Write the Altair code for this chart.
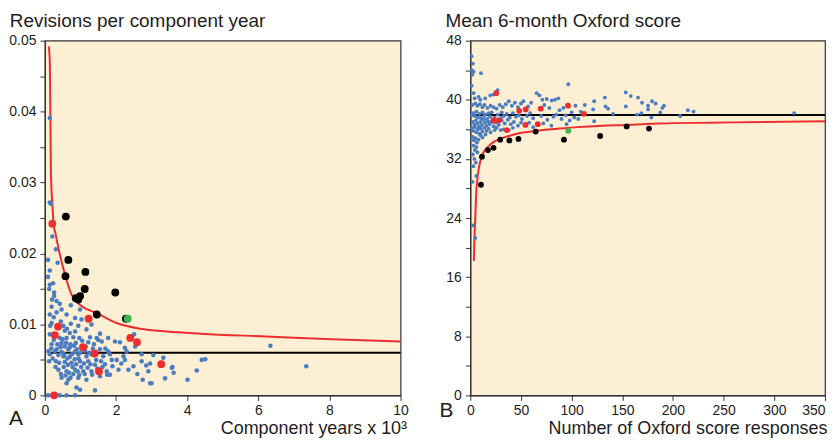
import altair as alt
import pandas as pd

FONT = "Liberation Sans"
TEXT_COLOR = "#1E1C1D"
BG = "#FDEFD3"
BLUE = "#4A7CC2"
RED = "#EE2E2E"
GREEN = "#3DB54A"
BLACK = "#000000"

PANEL_LABELS = ["A", "B"]
TITLES = ["Revisions per component year", "Mean 6-month Oxford score"]
X_TITLES = ["Component years x 10\u00b3", "Number of Oxford score responses"]

A_X_TICKS = [0, 2, 4, 6, 8, 10]
A_Y_TICKS = [0, 0.005, 0.01, 0.015, 0.02, 0.025, 0.03, 0.035, 0.04, 0.045, 0.05]
B_X_TICKS = [0, 50, 100, 150, 200, 250, 300, 350]
B_Y_TICKS = [0, 4, 8, 12, 16, 20, 24, 28, 32, 36, 40, 44, 48]

# ---------------- Panel A ----------------
A_BLUE = [
    (0.14, 0.0391), (0.17, 0.0270), (0.14, 0.0272), (0.21, 0.0224), (0.31, 0.0206),
    (0.09, 0.0191), (0.36, 0.0187), (0.14, 0.0176), (0.09, 0.0167), (0.23, 0.0158),
    (0.14, 0.0156), (0.26, 0.0145), (0.26, 0.0140), (0.33, 0.0133), (0.19, 0.0125),
    (0.42, 0.0129), (0.47, 0.0121), (0.73, 0.0127), (0.14, 0.0114), (0.33, 0.0117),
    (0.61, 0.0114), (0.99, 0.0121), (0.85, 0.0109), (1.03, 0.0107), (0.19, 0.0102),
    (0.73, 0.0101), (0.52, 0.0098), (0.94, 0.0098), (1.31, 0.0100), (1.17, 0.0093),
    (0.14, 0.0086), (0.56, 0.0091), (0.70, 0.0088), (0.85, 0.0090), (0.42, 0.0081),
    (0.61, 0.0081), (0.80, 0.0082), (0.97, 0.0081), (1.27, 0.0082), (1.46, 0.0081),
    (1.55, 0.0087), (0.19, 0.0072), (0.47, 0.0074), (0.56, 0.0069), (0.72, 0.0072),
    (0.87, 0.0074), (1.22, 0.0075), (1.38, 0.0072), (1.60, 0.0076), (1.78, 0.0081),
    (1.97, 0.0076), (2.11, 0.0075), (2.51, 0.0086), (0.33, 0.0065), (0.47, 0.0061),
    (0.66, 0.0065), (0.85, 0.0062), (1.13, 0.0063), (1.55, 0.0065), (1.78, 0.0062),
    (2.25, 0.0067), (2.54, 0.0069), (0.14, 0.0058), (0.52, 0.0055), (0.70, 0.0054),
    (0.94, 0.0058), (1.17, 0.0055), (1.31, 0.0058), (1.64, 0.0055), (1.83, 0.0058),
    (2.02, 0.0050), (2.21, 0.0055), (2.30, 0.0062), (2.72, 0.0058), (3.05, 0.0057),
    (0.31, 0.0048), (0.56, 0.0047), (0.75, 0.0046), (0.99, 0.0048), (1.22, 0.0048),
    (1.41, 0.0043), (1.69, 0.0044), (1.88, 0.0050), (2.25, 0.0050), (2.49, 0.0041),
    (2.72, 0.0048), (2.96, 0.0045), (3.33, 0.0053), (0.38, 0.0036), (0.61, 0.0034),
    (0.85, 0.0036), (1.08, 0.0034), (1.31, 0.0034), (1.74, 0.0034), (2.07, 0.0036),
    (2.91, 0.0034), (3.57, 0.0039), (3.62, 0.0032), (4.27, 0.0035), (4.41, 0.0050),
    (4.51, 0.0051), (0.47, 0.0025), (0.66, 0.0022), (0.94, 0.0025), (1.17, 0.0022),
    (1.55, 0.0027), (1.83, 0.0029), (2.75, 0.0022), (2.96, 0.0017), (3.38, 0.0024),
    (4.01, 0.0022), (0.61, 0.0017), (0.89, 0.0011), (0.99, 0.0008), (1.41, 0.0007),
    (0.09, 0.0), (0.42, 0.0), (0.61, 0.0), (0.85, 0.0), (3.59, 0.0040),
    (6.34, 0.0070), (7.35, 0.0041), (3.00, 0.0017),
    (0.10, 0.0062), (0.12, 0.0048), (0.18, 0.0066), (0.22, 0.0052), (0.25, 0.0078),
    (0.28, 0.0062), (0.30, 0.0040), (0.35, 0.0072), (0.38, 0.0057), (0.40, 0.0046),
    (0.44, 0.0068), (0.45, 0.0030), (0.50, 0.0079), (0.53, 0.0040), (0.55, 0.0058),
    (0.58, 0.0028), (0.60, 0.0074), (0.63, 0.0052), (0.65, 0.0043), (0.68, 0.0032),
    (0.70, 0.0068), (0.72, 0.0025), (0.76, 0.0058), (0.78, 0.0040), (0.80, 0.0030),
    (0.82, 0.0070), (0.84, 0.0051), (0.88, 0.0044), (0.90, 0.0065), (0.92, 0.0034),
    (0.95, 0.0052), (0.97, 0.0029), (1.00, 0.0060), (1.02, 0.0040), (1.05, 0.0077),
    (1.10, 0.0045), (1.12, 0.0030), (1.15, 0.0069), (1.20, 0.0039), (1.25, 0.0060),
    (1.28, 0.0044), (1.33, 0.0029), (1.35, 0.0066), (1.44, 0.0050), (1.48, 0.0038),
    (1.50, 0.0078), (1.58, 0.0048), (1.62, 0.0040), (1.70, 0.0066), (1.75, 0.0029),
    (1.90, 0.0041), (2.15, 0.0045), (2.35, 0.0036), (2.60, 0.0030), (2.85, 0.0042),
    (0.15, 0.0098), (0.25, 0.0110), (0.45, 0.0104), (0.62, 0.0094), (0.20, 0.0135),
    (0.12, 0.0150),
]
A_RED = [
    (0.21, 0.0242), (1.23, 0.0108), (0.37, 0.0097), (0.28, 0.0085), (1.07, 0.0068),
    (1.40, 0.0059), (1.52, 0.0034), (2.40, 0.0081), (2.59, 0.0075), (3.27, 0.0044),
    (0.26, 0.0),
]
A_BLACK = [
    (0.59, 0.0252), (0.66, 0.0191), (0.58, 0.0168), (1.14, 0.0174), (1.12, 0.0150),
    (0.87, 0.0137), (0.99, 0.0140), (0.94, 0.0135), (1.98, 0.0145), (1.46, 0.0114),
    (2.28, 0.0108),
]
A_GREEN = [(2.33, 0.0108)]
A_CURVE = [
    (0.11, 0.0492), (0.14, 0.0469), (0.17, 0.0314), (0.21, 0.0270), (0.25, 0.0240),
    (0.30, 0.0228), (0.38, 0.0208), (0.56, 0.0171), (0.75, 0.0142), (1.03, 0.0126),
    (1.46, 0.0116), (2.02, 0.0102), (2.68, 0.0094), (3.43, 0.0090), (4.37, 0.0087),
    (6.22, 0.0083), (8.08, 0.0079), (10.0, 0.0076),
]
A_MEAN = [(0.10, 0.0060), (10.0, 0.0060)]

# ---------------- Panel B ----------------
B_BLUE = [
    (1.3, 45.9), (2.6, 44.9), (1.6, 44.0), (3.3, 43.8), (2.0, 43.4), (10.5, 43.6),
    (1.3, 41.9), (3.3, 40.9), (4.3, 40.2), (8.2, 40.4), (9.8, 40.0), (14.7, 40.2),
    (19.7, 40.6), (22.9, 40.7), (26.9, 41.3),
    (2.0, 39.3), (5.0, 39.5), (7.0, 39.2), (9.5, 39.4), (12, 39.0), (14, 39.3),
    (17, 38.9), (20, 39.2), (23, 39.0), (26, 38.8), (29, 39.3), (32, 39.0), (35, 39.4),
    (38, 39.8), (41, 39.2), (44, 39.6), (47, 39.0), (50, 39.5), (52.4, 39.8), (57, 39.1),
    (60, 39.6), (65.5, 40.9), (68.2, 40.6), (71.1, 40.0), (75.4, 40.1), (80.3, 39.9),
    (83.6, 40.0), (86.9, 40.2), (96.7, 42.1), (91.8, 38.9), (103.8, 39.2), (88, 38.6),
    (78, 38.9), (73, 39.3),
    (1.5, 37.9), (3, 38.2), (4.5, 37.8), (6, 38.4), (7.5, 37.6), (9, 38.1), (10.5, 37.5),
    (12, 38.3), (13.5, 37.8), (15, 38.0), (16.5, 37.4), (18, 38.2), (19.5, 37.7),
    (21, 38.3), (24, 37.6), (27, 38.0), (30, 37.5), (31, 38.3), (33, 37.8), (36, 38.1),
    (39, 37.6), (42, 38.2), (45, 37.7), (48, 37.9), (51, 37.4), (56, 37.8), (59, 38.2),
    (62, 37.5), (70, 37.8), (76, 37.3), (82, 37.7), (85, 38.0), (90, 37.4), (94, 37.9),
    (98, 37.2), (100, 38.3),
    (2.5, 37.0), (4, 36.6), (5.5, 37.2), (7, 36.8), (8.5, 36.4), (10, 37.0), (11.5, 36.6),
    (13, 37.3), (14.5, 36.9), (16, 36.5), (17.5, 37.1), (19, 36.7), (21, 37.0), (23, 36.4),
    (25, 36.9), (28, 36.6), (31, 37.2), (34, 36.8), (37, 37.3), (40, 36.7), (43, 37.0),
    (47, 36.5), (50, 36.9), (58, 36.9), (62, 36.3), (72, 36.8), (80, 36.5), (95, 36.7),
    (1.5, 36.2), (3, 35.8), (4.5, 36.3), (6, 35.6), (7.5, 36.0), (9, 35.4), (10.5, 36.1),
    (12, 35.7), (14, 36.2), (16, 35.8), (18, 36.1), (20, 35.6), (24, 35.9), (26, 36.2),
    (30, 35.9), (33, 36.0), (38, 35.9), (42, 36.2),
    (2, 35.0), (3.5, 34.5), (5, 34.8), (6.5, 34.2), (8, 34.6), (3, 33.8), (4.5, 33.2),
    (6, 33.6), (7, 32.9), (2.5, 32.6), (4, 32.0), (5.5, 31.5), (3, 31.0), (2.3, 28.9),
    (5.9, 29.7), (2.6, 23.0), (4.9, 21.3), (10, 35.2), (12, 34.9), (15, 35.3),
    (113, 39.3), (109, 38.4), (102.6, 37.6), (106.5, 37.4), (122.2, 39.8), (121.2, 38.7),
    (122.2, 37.1), (132.8, 40.3), (133.4, 39.1), (135.9, 38.8), (140.9, 38.1),
    (153.4, 41.0), (158.3, 40.5), (153.4, 39.1), (165.5, 40.3), (169.5, 39.6),
    (175.4, 39.2), (175.4, 38.7), (179.3, 39.8), (182.9, 39.5), (189.5, 38.9),
    (191.1, 39.2), (187.5, 38.3), (164.5, 38.0), (168.8, 38.2), (178.6, 37.6),
    (207.1, 37.8), (214.7, 38.6), (220.3, 38.4), (319.6, 38.2),
]
B_RED = [
    (25.5, 40.9), (22.9, 37.2), (27.9, 37.2), (36.0, 35.9), (48.2, 38.5), (54.7, 38.7),
    (54.4, 36.6), (66.6, 36.7), (69.5, 38.8), (96.4, 39.2), (112.1, 38.1),
]
B_BLACK = [
    (11.5, 32.3), (10.5, 28.5), (17.4, 33.2), (22.9, 33.5), (29.5, 34.6), (38.6, 34.5),
    (47.5, 34.7), (64.5, 35.7), (92.4, 34.6), (128.1, 35.1), (154.3, 36.4), (176.3, 36.1),
]
B_GREEN = [(96.6, 35.8)]
B_CURVE = [
    (3.5, 18.2), (4.0, 21.0), (4.9, 23.9), (5.9, 27.5), (7.0, 29.3), (8.2, 30.6),
    (10, 31.7), (11.5, 32.4), (14, 33.1), (18, 33.7), (23, 34.3), (29.5, 34.7),
    (38, 35.1), (49, 35.5), (60, 35.7), (72, 35.9), (88, 36.1), (105, 36.3),
    (130, 36.5), (154, 36.6), (187, 36.8), (236, 36.9), (290, 37.0), (350, 37.1),
]
B_MEAN = [(3.3, 37.95), (350, 37.95)]

H = 356


def df(pairs):
    return pd.DataFrame(pairs, columns=["x", "y"])


def panel(idx, w, blue, red, black, green, curve, mean, xdom, ydom, xticks, yticks,
          ylabel_expr, small, big, label_xy, xtitle_x, xtitle_y, title_dx, xlabel_align):
    x_enc = alt.X("x:Q", scale=alt.Scale(domain=xdom, nice=False, zero=False),
                  axis=alt.Axis(values=xticks, title=X_TITLES[idx],
                                labelAlign=xlabel_align, labelPadding=3,
                                titleX=xtitle_x, titleY=xtitle_y, titleAlign="right",
                                titleBaseline="alphabetic", titleFontSize=18,
                                titleFontWeight="normal", titleFont=FONT,
                                titleColor=TEXT_COLOR))
    y_enc = alt.Y("y:Q", scale=alt.Scale(domain=ydom, nice=False, zero=False),
                  axis=alt.Axis(values=yticks, title=None, labelExpr=ylabel_expr))
    line = alt.Chart(df(curve)).mark_line(color=RED, strokeWidth=2,
                                          interpolate="monotone").encode(x=x_enc, y=y_enc)
    mean_line = alt.Chart(df(mean)).mark_line(color=BLACK, strokeWidth=2).encode(x=x_enc, y=y_enc)
    pts_b = alt.Chart(df(blue)).mark_circle(color=BLUE, opacity=1, size=small).encode(x=x_enc, y=y_enc)
    pts_r = alt.Chart(df(red)).mark_circle(color=RED, opacity=1, size=big).encode(x=x_enc, y=y_enc)
    pts_k = alt.Chart(df(black)).mark_circle(color=BLACK, opacity=1, size=big).encode(x=x_enc, y=y_enc)
    pts_g = alt.Chart(df(green)).mark_circle(color=GREEN, opacity=1, size=big).encode(x=x_enc, y=y_enc)
    lab = alt.Chart(pd.DataFrame({"label": [PANEL_LABELS[idx]]})).mark_text(
        font=FONT, fontSize=21, color=TEXT_COLOR, align="left", baseline="alphabetic"
    ).encode(x=alt.value(label_xy[0]), y=alt.value(label_xy[1]), text="label:N")
    return alt.layer(mean_line, line, pts_b, pts_r, pts_k, pts_g, lab).properties(
        width=w, height=H,
        title=alt.TitleParams(TITLES[idx], anchor="start", fontSize=19,
                              fontWeight="normal", font=FONT, color=TEXT_COLOR,
                              offset=3, dx=title_dx),
    )


left = panel(0, 357, A_BLUE, A_RED, A_BLACK, A_GREEN, A_CURVE, A_MEAN, [0, 10], [0, 0.05],
             A_X_TICKS, A_Y_TICKS,
             "round(datum.value*1000) % 10 == 0 ? (datum.value == 0 ? '0' : format(datum.value, '.2f')) : ''",
             21, 62, (-36, 386), 363, 38.7, 1, "center")
right = panel(1, 356, B_BLUE, B_RED, B_BLACK, B_GREEN, B_CURVE, B_MEAN, [0, 350], [0, 48],
              B_X_TICKS, B_Y_TICKS,
              "datum.value % 8 == 0 ? datum.label : ''",
              15, 34, (-31, 378), 358, 38.7, 6,
              {"condition": {"test": "datum.value == 350", "value": "right"}, "value": "center"})

chart = alt.hconcat(left, right, spacing=29).properties(
    padding={"left": 0, "top": 2, "right": -2, "bottom": 0}
).configure_view(
    fill=BG, stroke="#333333", strokeWidth=1.2
).configure_axis(
    grid=False, domainColor="#333333", domainWidth=1.2, tickColor="#333333",
    tickSize=5, labelFontSize=14, labelFont=FONT, labelColor=TEXT_COLOR,
    labelPadding=4,
)

chart.save("out.html", embed_options={"renderer": "svg", "actions": False})
